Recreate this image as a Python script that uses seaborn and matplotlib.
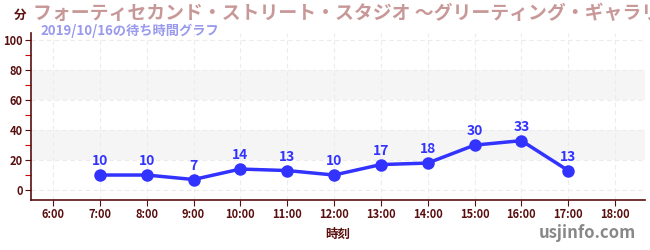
import matplotlib
matplotlib.use("Agg")
import matplotlib.pyplot as plt
import seaborn as sns
import pandas as pd
import numpy as np

hours = [7, 8, 9, 10, 11, 12, 13, 14, 15, 16, 17]
waits = [10, 10, 7, 14, 13, 10, 17, 18, 30, 33, 13]
tick_hours = list(range(6, 19))
tick_labels = [f"{h}:00" for h in tick_hours]
title = "フォーティセカンド・ストリート・スタジオ 〜グリーティング・ギャラリー〜"
subtitle = "2019/10/16の待ち時間グラフ"

sns.set_theme(style="white")
plt.rcParams['font.family'] = ['Noto Sans CJK JP', 'DejaVu Sans']

maroon = "#5a0f0f"
blue = "#3333ff"

fig = plt.figure(figsize=(6.5, 2.5), dpi=100)
ax = fig.add_axes([31/650, 50/250, 614/650, 167/250])

df = pd.DataFrame({"hour": hours, "wait": waits})

ax.set_xlim(5.53, 18.64)
ax.set_ylim(-6.7, 105)

# bands
for lo, hi in [(20, 40), (60, 80)]:
    ax.axhspan(lo, hi, color="#f5f5f5", zorder=0, lw=0)

for h in tick_hours:
    ax.axvline(h, color="#ececec", ls=(0, (4, 3)), lw=0.8, zorder=0.5)
for y in range(0, 101, 20):
    ax.axhline(y, color="#ececec", ls=(0, (4, 3)), lw=0.8, zorder=0.5)

sns.lineplot(data=df, x="hour", y="wait", ax=ax, color=blue, lw=2.5,
             marker="o", markersize=9, markeredgewidth=0, zorder=3)

for h, w in zip(hours, waits):
    ax.annotate(str(w), (h, w), xytext=(0, 5), textcoords="offset points",
                ha="center", va="bottom", color=blue, fontsize=10,
                fontweight="bold", zorder=4)

ax.set_xticks(tick_hours)
ax.set_xticklabels(tick_labels)
ax.set_yticks(range(0, 101, 20))
ax.set_yticks(range(10, 100, 20), minor=True)
ax.tick_params(axis="both", which="major", colors=maroon, labelsize=8, length=4, width=0.8, direction="out")
ax.tick_params(axis="y", which="minor", colors="#cc0000", length=4, width=0.8, direction="out", left=True)
ax.tick_params(axis="x", which="major", bottom=True, pad=2)
ax.tick_params(axis="y", which="major", left=True, pad=2)
for lab in ax.get_xticklabels() + ax.get_yticklabels():
    lab.set_color(maroon)
    lab.set_fontweight("bold")

for s in ["top", "right"]:
    ax.spines[s].set_visible(False)
for s in ["left", "bottom"]:
    ax.spines[s].set_color(maroon)
    ax.spines[s].set_linewidth(1.2)

ax.set_xlabel("時刻", color=maroon, fontsize=9, fontweight="bold", labelpad=5)
ax.set_ylabel("")

fig.text(20/650, 1 - 15/250, "分", color=maroon, fontsize=9, fontweight="bold", ha="center", va="center")
fig.text(33/650, 1 - 13/250, title, color="#c89898", fontsize=13.6, fontweight="bold", ha="left", va="center")
fig.text(40/650, 1 - 31/250, subtitle, color="#9999ee", fontsize=9.5, fontweight="bold", ha="left", va="center")
fig.text(636/650, 1 - 233/250, "usjinfo.com", color="#888888", fontsize=12, fontweight="bold", ha="right", va="center")

fig.savefig("out.png", dpi=100)
